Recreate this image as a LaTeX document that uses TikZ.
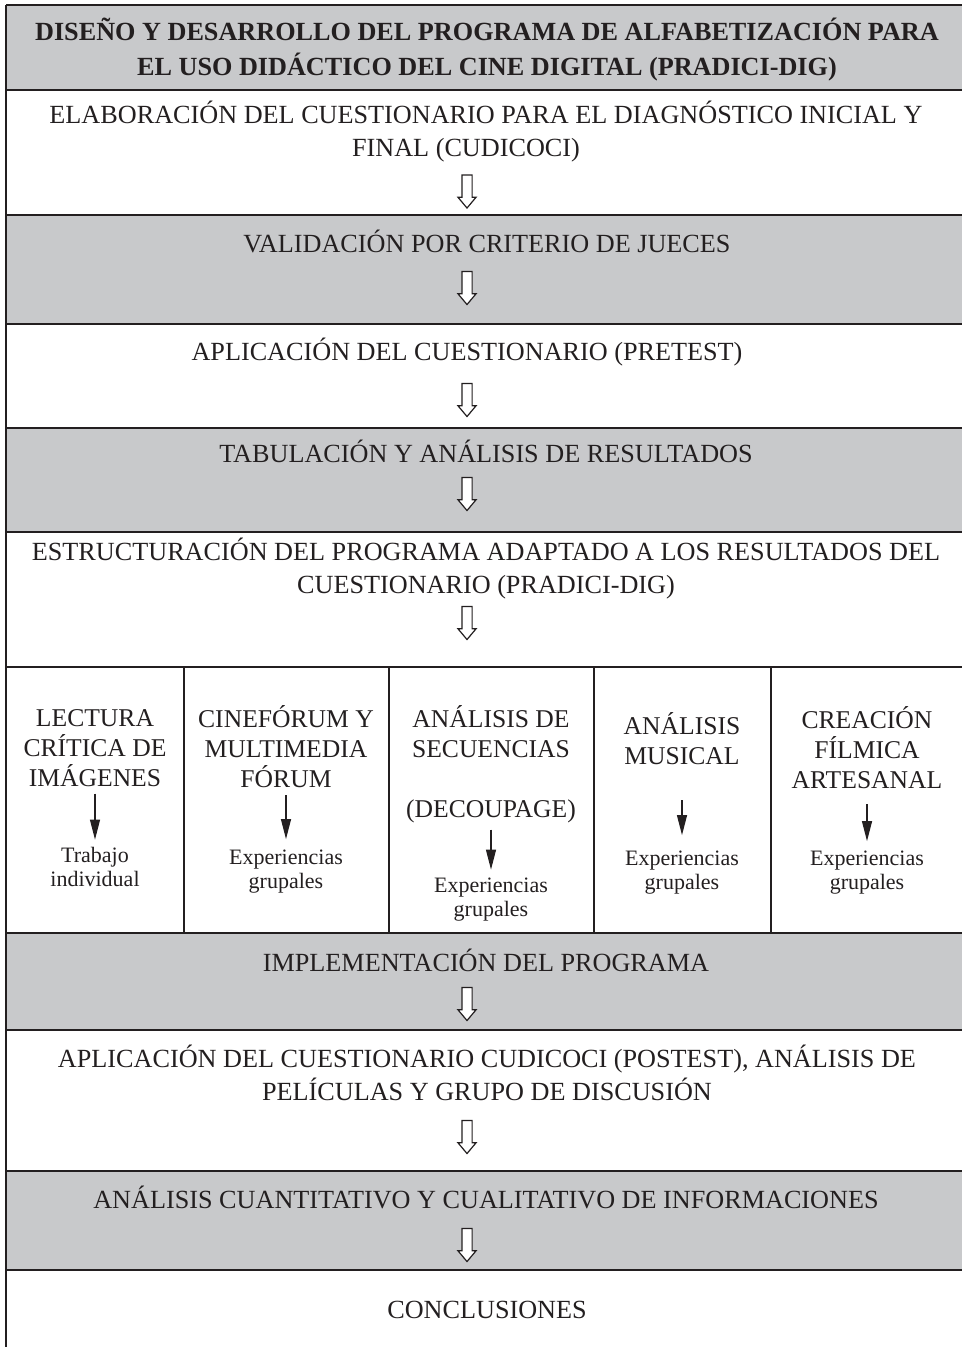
\documentclass[tikz,border=0pt]{standalone}
\usepackage{fontspec}
\setmainfont{Liberation Serif}
\usetikzlibrary{shapes.arrows,arrows.meta,positioning}
\definecolor{rowgray}{RGB}{200,201,203}
\definecolor{ink}{RGB}{35,31,32}

\begin{document}
\begin{tikzpicture}[x=0.5pt, y=-0.5pt, line width=1pt, color=ink,
  rowtext/.style={align=center, inner sep=0pt, font=\fontsize{13.1}{16.5}\selectfont},
  headtext/.style={align=center, inner sep=0pt, font=\fontsize{13.1}{17.5}\selectfont\bfseries},
  coltext/.style={align=center, inner sep=0pt, font=\fontsize{12.8}{15}\selectfont},
  notetext/.style={align=center, inner sep=0pt, font=\fontsize{11}{12}\selectfont},
  hollow/.style={draw, fill=white, single arrow, rotate=-90, line width=0.6pt,
    minimum height=16.5pt, text height=2.25pt, text depth=2.25pt, text width=0pt,
    single arrow head extend=2pt, single arrow tip angle=80, inner sep=0pt},
  tinyarrow/.style={line width=0.6pt, -{Triangle[length=10pt,width=5pt]}}]
  \useasboundingbox (0,0) rectangle (962,1347);

  % shaded rows and rules
  \foreach \top/\bot in {5/90, 215/324, 428/532, 933/1030, 1171/1270}
    \fill[rowgray] (6,\top) rectangle (962,\bot);
  \foreach \y in {5,90,215,324,428,532,667,933,1030,1171,1270}
    \draw (6,\y) -- (962,\y);
  \draw (6,5) -- (6,1347);
  \foreach \x in {184,389,594,771}
    \draw (\x,667) -- (\x,933);

  % rows
  \node[headtext] (title) at (487,49.5)
  {DISEÑO Y DESARROLLO DEL PROGRAMA DE ALFABETIZACIÓN PARA\\EL USO DIDÁCTICO DEL CINE DIGITAL (PRADICI-DIG)};
  \node[rowtext] (elab) at (486,131.5)
  {ELABORACIÓN DEL CUESTIONARIO PARA EL DIAGNÓSTICO INICIAL Y\\FINAL (CUDICOCI)\hspace*{20pt}};
  \node[hollow] (arr1) at (467,188.5) {};
  \node[rowtext] (valid) at (487,241) {VALIDACIÓN POR CRITERIO DE JUECES};
  \node[hollow] (arr2) at (467,285) {};
  \node[rowtext] (pretest) at (467,352) {APLICACIÓN DEL CUESTIONARIO (PRETEST)};
  \node[hollow] (arr3) at (467,397) {};
  \node[rowtext] (tabul) at (486,451) {TABULACIÓN Y ANÁLISIS DE RESULTADOS};
  \node[hollow] (arr4) at (467,491) {};
  \node[rowtext] (estruct) at (486,569)
  {ESTRUCTURACIÓN DEL PROGRAMA ADAPTADO A LOS RESULTADOS DEL\\CUESTIONARIO (PRADICI-DIG)};
  \node[hollow] (arr5) at (467,620) {};

  % five strands
  \node[coltext] (lectura) at (95,748) {LECTURA\\CRÍTICA DE\\IMÁGENES};
  \node[notetext, below=29.5pt of lectura] (trabajo) {Trabajo\\individual};
  \node[coltext] (cinef) at (286,747) {CINEFÓRUM Y\\MULTIMEDIA\\FÓRUM};
  \node[notetext, below=30pt of cinef] (expcinef) {Experiencias\\grupales};
  \node[coltext] (secuen) at (491,732) {ANÁLISIS DE\\SECUENCIAS};
  \node[coltext] (decoup) at (491,811) {(DECOUPAGE)};
  \node[notetext, below=26.5pt of decoup] (expsecuen) {Experiencias\\grupales};
  \node[coltext] (musical) at (682,739) {ANÁLISIS\\MUSICAL};
  \node[notetext, below=42pt of musical] (expmusical) {Experiencias\\grupales};
  \node[coltext] (creacion) at (867,748) {CREACIÓN\\FÍLMICA\\ARTESANAL};
  \node[notetext, below=30pt of creacion] (expcreacion) {Experiencias\\grupales};

  \draw[tinyarrow, shorten <=3pt, shorten >=3.5pt] (lectura) -- (trabajo);
  \draw[tinyarrow, shorten <=3pt, shorten >=5pt] (cinef) -- (expcinef);
  \draw[tinyarrow, shorten <=3pt, shorten >=3.5pt] (decoup) -- (expsecuen);
  \draw[tinyarrow, shorten <=17pt, shorten >=7.5pt] (musical) -- (expmusical);
  \draw[tinyarrow, shorten <=7pt, shorten >=4.5pt] (creacion) -- (expcreacion);

  \node[rowtext] (implem) at (486,960) {IMPLEMENTACIÓN DEL PROGRAMA};
  \node[hollow] (arr6) at (467,1001) {};
  \node[rowtext] (postest) at (487,1072.5)
  {APLICACIÓN DEL CUESTIONARIO CUDICOCI (POSTEST), ANÁLISIS DE\\PELÍCULAS Y GRUPO DE DISCUSIÓN};
  \node[hollow] (arr7) at (467,1134) {};
  \node[rowtext] (analisis) at (486,1197) {ANÁLISIS CUANTITATIVO Y CUALITATIVO DE INFORMACIONES};
  \node[hollow] (arr8) at (467,1242) {};
  \node[rowtext] (concl) at (487,1310) {CONCLUSIONES};
\end{tikzpicture}
\end{document}
